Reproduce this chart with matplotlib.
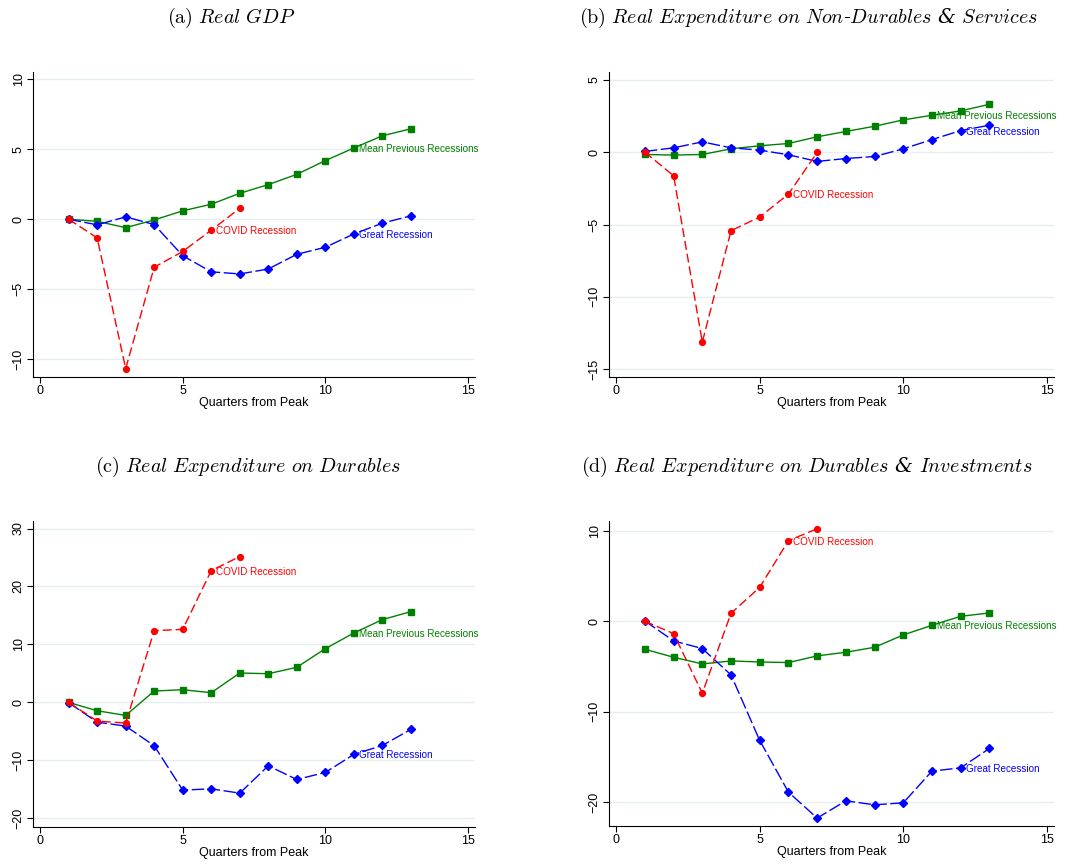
import matplotlib
matplotlib.use('Agg')
import matplotlib.pyplot as plt

plt.rcParams['font.family'] = 'Liberation Sans'
plt.rcParams['mathtext.fontset'] = 'cm'

# quarters since the peak
quarters = [1, 2, 3, 4, 5, 6, 7, 8, 9, 10, 11, 12, 13]
covid_quarters = [1, 2, 3, 4, 5, 6, 7]

# (a) Real GDP
gdp_mean = [0.0, -0.15, -0.6, -0.05, 0.6, 1.07, 1.85, 2.47, 3.2, 4.18, 5.08, 5.95, 6.45]
gdp_great = [0.0, -0.4, 0.17, -0.38, -2.6, -3.75, -3.9, -3.55, -2.5, -2.0, -1.05, -0.28, 0.24]
gdp_covid = [0.0, -1.33, -10.65, -3.42, -2.3, -0.78, 0.78]

# (b) Non-durables & services
nds_mean = [-0.16, -0.2, -0.16, 0.23, 0.44, 0.6, 1.06, 1.43, 1.79, 2.23, 2.55, 2.85, 3.31]
nds_great = [0.05, 0.3, 0.71, 0.3, 0.14, -0.18, -0.64, -0.44, -0.3, 0.23, 0.87, 1.49, 1.86]
nds_covid = [0.0, -1.63, -13.13, -5.43, -4.48, -2.9, -0.02]

# (c) Durables
dur_mean = [0.0, -1.44, -2.25, 1.96, 2.19, 1.67, 5.07, 4.95, 6.05, 9.27, 11.97, 14.28, 15.66]
dur_great = [-0.05, -3.4, -4.09, -7.48, -15.14, -14.91, -15.66, -10.94, -13.3, -12.09, -8.98, -7.43, -4.66]
dur_covid = [0.0, -3.22, -3.57, 12.38, 12.6, 22.74, 25.16]

# (d) Durables & investments
inv_mean = [-3.09, -3.97, -4.71, -4.38, -4.49, -4.56, -3.82, -3.42, -2.87, -1.51, -0.44, 0.55, 0.92]
inv_great = [0.04, -2.17, -3.01, -5.92, -13.16, -18.86, -21.73, -19.82, -20.26, -20.04, -16.54, -16.18, -14.04]
inv_covid = [0.0, -1.36, -7.94, 0.88, 3.75, 8.9, 10.22]

titles = [
    r"$\mathrm{(a)}\ \mathit{Real\ GDP}$",
    r"$\mathrm{(b)}\ \mathit{Real\ Expenditure\ on\ Non}$-$\mathit{Durables}$ & $\mathit{Services}$",
    r"$\mathrm{(c)}\ \mathit{Real\ Expenditure\ on\ Durables}$",
    r"$\mathrm{(d)}\ \mathit{Real\ Expenditure\ on\ Durables}$ & $\mathit{Investments}$",
]

panels = [
    dict(mean=gdp_mean, great=gdp_great, covid=gdp_covid, ylim=(-11.25, 10.5),
         yticks=[-10, -5, 0, 5, 10], lab=(11, 11, 6)),
    dict(mean=nds_mean, great=nds_great, covid=nds_covid, ylim=(-15.54, 5.54),
         yticks=[-15, -10, -5, 0, 5], lab=(11, 12, 6)),
    dict(mean=dur_mean, great=dur_great, covid=dur_covid, ylim=(-21.5, 31.3),
         yticks=[-20, -10, 0, 10, 20, 30], lab=(11, 11, 6)),
    dict(mean=inv_mean, great=inv_great, covid=inv_covid, ylim=(-22.6, 11.07),
         yticks=[-20, -10, 0, 10], lab=(11, 12, 6)),
]

W, H = 1076, 865
fig = plt.figure(figsize=(W / 100, H / 100), dpi=100)

# axes boxes in pixels: left, top, right, bottom
boxes = [(33, 72, 475, 377), (609, 72, 1054, 377),
         (33, 521, 475, 827), (609, 521, 1054, 826)]
title_pos = [(231, 18), (808, 18), (248, 467), (807, 467)]

green = '#008000'
blue = '#0000ff'
red = '#ff0000'

for i, p in enumerate(panels):
    l, t, r, b = boxes[i]
    ax = fig.add_axes([l / W, 1 - b / H, (r - l) / W, (b - t) / H])

    ax.plot(quarters, p['mean'], color=green, lw=1.0, marker='s', ms=4.2)
    ax.plot(quarters, p['great'], color=blue, lw=1.0, marker='D', ms=4.0,
            dashes=(9, 2.5))
    ax.plot(covid_quarters, p['covid'], color=red, lw=1.0, marker='o', ms=4.2,
            dashes=(6.5, 2.8))

    im, ig, ic = p['lab']
    ax.annotate('Mean Previous Recessions', (im, p['mean'][im - 1]), xytext=(3.5, 0),
                textcoords='offset points', color=green, fontsize=7.1,
                va='center_baseline', ha='left')
    ax.annotate('Great Recession', (ig, p['great'][ig - 1]), xytext=(3.5, 0),
                textcoords='offset points', color=blue, fontsize=7.1,
                va='center_baseline', ha='left')
    ax.annotate('COVID Recession', (ic, p['covid'][ic - 1]), xytext=(3.5, 0),
                textcoords='offset points', color=red, fontsize=7.1,
                va='center_baseline', ha='left')

    ax.set_xlim(-0.25, 15.25)
    ax.set_ylim(*p['ylim'])
    ax.set_xticks([0, 5, 10, 15])
    ax.set_yticks(p['yticks'])
    ax.set_yticklabels([str(v).replace('-', '\u2212') for v in p['yticks']],
                       rotation=90, va='center')
    ax.tick_params(direction='out', length=4, width=0.8, labelsize=9, pad=2)
    ax.yaxis.grid(True, color='#e6eff0', lw=1.0)
    ax.set_axisbelow(True)
    ax.spines['top'].set_visible(False)
    ax.spines['right'].set_visible(False)
    ax.spines['left'].set_linewidth(0.8)
    ax.spines['bottom'].set_linewidth(0.8)
    ax.set_xlabel('Quarters from Peak', fontsize=9, labelpad=0)

    tx, ty = title_pos[i]
    fig.text(tx / W, 1 - ty / H, titles[i], ha='center', va='center',
             fontsize=14.5, family='DejaVu Serif', style='italic')

fig.savefig('out.png', dpi=100, facecolor='white')
